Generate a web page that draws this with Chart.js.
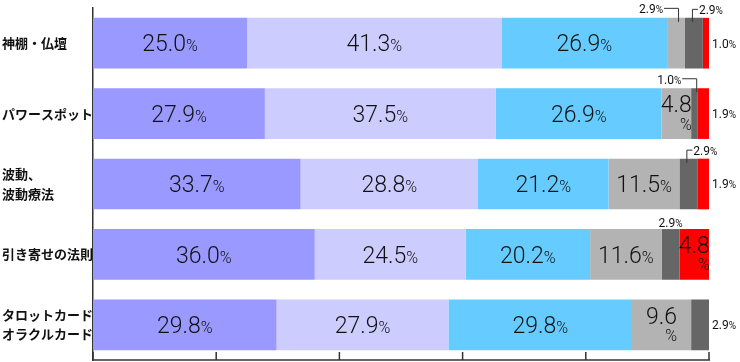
<!DOCTYPE html>
<html>
<head>
<meta charset="utf-8">
<script src="https://cdn.jsdelivr.net/npm/chart.js@4.4.1/dist/chart.umd.min.js"></script>
<style>
  html, body { margin: 0; padding: 0; background: #fff; }
  #wrap { width: 740px; height: 362px; position: relative; }
</style>
</head>
<body>
<div id="wrap"><canvas id="chart"></canvas></div>
<script>
// --- data ---
const categories = ['神棚・仏壇', 'パワースポット', ['波動、', '波動療法'], '引き寄せの法則', ['タロットカード', 'オラクルカード']];
const series1 = [25.0, 27.9, 33.7, 36.0, 29.8];
const series2 = [41.3, 37.5, 28.8, 24.5, 27.9];
const series3 = [26.9, 26.9, 21.2, 20.2, 29.8];
const series4 = [2.9, 4.8, 11.5, 11.6, 9.6];
const series5 = [2.9, 1.0, 2.9, 2.9, 2.9];
const series6 = [1.0, 1.9, 1.9, 4.8, 0];
const xTicks = [0, 20, 40, 60, 80, 100];

const colors = ['#9999ff', '#ccccff', '#66ccff', '#b3b3b3', '#666666', '#ff0000'];

// where each value label goes ("row-dataset"), default is inside the bar
const labelPlace = {
  '0-3': 'upLeft', '0-4': 'upRight', '0-5': 'right',
  '1-3': 'in2', '1-4': 'upLeft', '1-5': 'right',
  '2-4': 'upRight', '2-5': 'right',
  '3-4': 'up', '3-5': 'in2',
  '4-3': 'in2', '4-4': 'right'
};

const NUM_FONT = 'Roboto, "Noto Sans", sans-serif';

function drawValue(ctx, x, y, txt, numSize, pctSize, align, weight) {
  const f = weight + ' ';
  ctx.font = f + numSize + 'px ' + NUM_FONT;
  const wN = ctx.measureText(txt).width;
  ctx.font = f + pctSize + 'px ' + NUM_FONT;
  const wP = ctx.measureText('%').width;
  let sx = x;
  if (align === 'center') sx = x - (wN + wP) / 2;
  else if (align === 'right') sx = x - (wN + wP);
  const base = y + numSize * 0.36;
  ctx.textAlign = 'left';
  ctx.textBaseline = 'alphabetic';
  ctx.font = f + numSize + 'px ' + NUM_FONT;
  ctx.fillText(txt, sx, base);
  ctx.font = f + pctSize + 'px ' + NUM_FONT;
  ctx.fillText('%', sx + wN, base);
}

const valueLabels = {
  id: 'valueLabels',
  afterDatasetsDraw(chart) {
    const ctx = chart.ctx;
    ctx.save();
    ctx.fillStyle = '#111';
    ctx.strokeStyle = '#333';
    ctx.lineWidth = 1;
    chart.data.datasets.forEach((ds, di) => {
      chart.getDatasetMeta(di).data.forEach((bar, i) => {
        const v = ds.data[i];
        if (!v) return;
        const left = Math.min(bar.base, bar.x), right = Math.max(bar.base, bar.x);
        const cx = (left + right) / 2, cy = bar.y, top = cy - bar.height / 2;
        const txt = v.toFixed(1);
        const place = labelPlace[i + '-' + di] || 'in';
        if (place === 'in') {
          drawValue(ctx, cx, cy, txt, 23, 16, 'center', 300);
        } else if (place === 'in2') {
          ctx.font = '300 23px ' + NUM_FONT;
          const w = ctx.measureText(txt).width;
          ctx.textAlign = 'center';
          ctx.textBaseline = 'middle';
          ctx.fillText(txt, cx, cy - 7);
          ctx.font = '300 16px ' + NUM_FONT;
          ctx.textAlign = 'right';
          ctx.fillText('%', cx + w / 2, cy + 12);
        } else if (place === 'upLeft') {
          ctx.beginPath();
          ctx.moveTo(cx + 2.5, top + 4);
          ctx.lineTo(cx + 2.5, top - 9.5);
          ctx.lineTo(cx - 12, top - 9.5);
          ctx.stroke();
          drawValue(ctx, cx - 13, top - 9, txt, 12, 10, 'right', 400);
        } else if (place === 'upRight') {
          ctx.beginPath();
          ctx.moveTo(cx - 1.5, top + 4);
          ctx.lineTo(cx - 1.5, top - 8.5);
          ctx.lineTo(cx + 4, top - 8.5);
          ctx.stroke();
          drawValue(ctx, cx + 5, top - 8, txt, 12, 10, 'left', 400);
        } else if (place === 'up') {
          drawValue(ctx, cx, top - 6, txt, 12, 10, 'center', 400);
        } else if (place === 'right') {
          drawValue(ctx, right + 3, cy, txt, 12, 10, 'left', 400);
        }
      });
    });
    ctx.restore();
  }
};

// bottom axis with tick marks pointing up into the plot
const bottomAxis = {
  id: 'bottomAxis',
  afterDraw(chart) {
    const ctx = chart.ctx;
    const xs = chart.scales.x;
    const y = chart.chartArea.bottom;
    ctx.save();
    ctx.strokeStyle = '#333';
    ctx.lineWidth = 1.5;
    ctx.beginPath();
    ctx.moveTo(chart.chartArea.left, y);
    ctx.lineTo(chart.chartArea.right + 1, y);
    xTicks.forEach(t => {
      const px = xs.getPixelForValue(t);
      ctx.moveTo(px, y);
      ctx.lineTo(px, y - 8);
    });
    ctx.stroke();
    ctx.restore();
  }
};

const seriesList = [series1, series2, series3, series4, series5, series6];

new Chart(document.getElementById('chart'), {
  type: 'bar',
  data: {
    labels: categories,
    datasets: seriesList.map((s, k) => ({
      data: s,
      backgroundColor: colors[k],
      borderWidth: 0,
      barPercentage: 0.72,
      categoryPercentage: 1.0
    }))
  },
  options: {
    indexAxis: 'y',
    responsive: true,
    maintainAspectRatio: false,
    animation: false,
    layout: { padding: { top: 8, right: 31, bottom: 2, left: 2 } },
    plugins: { legend: { display: false }, tooltip: { enabled: false } },
    scales: {
      x: { stacked: true, min: 0, max: 100, display: false },
      y: {
        stacked: true,
        afterFit: (s) => { s.width = 91; s.paddingTop = 0; s.paddingBottom = 0; },
        grid: { drawOnChartArea: false, drawTicks: false },
        border: { color: '#333', width: 1.5 },
        ticks: {
          crossAlign: 'far',
          color: '#111',
          font: { family: '"Noto Sans CJK JP", sans-serif', size: 13, weight: 'bold', lineHeight: 1.5 }
        }
      }
    }
  },
  plugins: [valueLabels, bottomAxis]
});
</script>
</body>
</html>
